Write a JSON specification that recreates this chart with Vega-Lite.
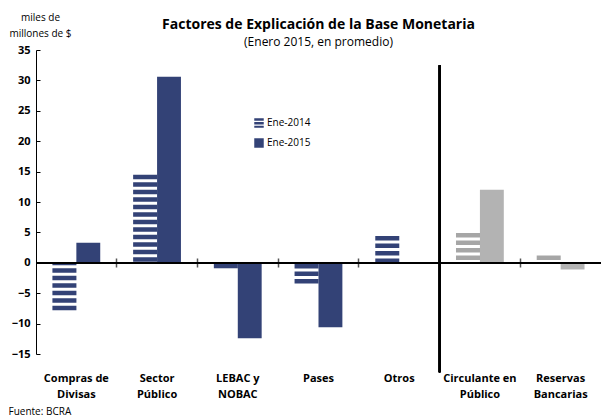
{
  "$schema": "https://vega.github.io/schema/vega-lite/v6.json",
  "autosize": {"type": "none"},
  "padding": {"left": 36, "top": 50, "right": 0, "bottom": 63},
  "width": 565,
  "height": 304,
  "background": "white",
  "config": {
    "font": "Open Sans",
    "view": {"stroke": null},
    "axis": {"labelOverlap": false},
    "axisY": {"labelOverlap": false, "labelFlush": false}
  },
  "title": {
    "text": "Factores de Explicación de la Base Monetaria",
    "subtitle": "(Enero 2015, en promedio)",
    "fontSize": 14,
    "fontWeight": "bold",
    "subtitleFontSize": 12,
    "subtitleColor": "black",
    "color": "black",
    "anchor": "middle",
    "offset": -36,
    "subtitlePadding": 5
  },
  "data": {
    "values": [
      {"categoria": "Compras de Divisas", "grupo": "Factores", "serie": "Ene-2014", "valor": -7.8},
      {"categoria": "Compras de Divisas", "grupo": "Factores", "serie": "Ene-2015", "valor": 3.3},
      {"categoria": "Sector Público", "grupo": "Factores", "serie": "Ene-2014", "valor": 14.5},
      {"categoria": "Sector Público", "grupo": "Factores", "serie": "Ene-2015", "valor": 30.6},
      {"categoria": "LEBAC y NOBAC", "grupo": "Factores", "serie": "Ene-2014", "valor": -0.9},
      {"categoria": "LEBAC y NOBAC", "grupo": "Factores", "serie": "Ene-2015", "valor": -12.4},
      {"categoria": "Pases", "grupo": "Factores", "serie": "Ene-2014", "valor": -3.4},
      {"categoria": "Pases", "grupo": "Factores", "serie": "Ene-2015", "valor": -10.6},
      {"categoria": "Otros", "grupo": "Factores", "serie": "Ene-2014", "valor": 4.4},
      {"categoria": "Otros", "grupo": "Factores", "serie": "Ene-2015", "valor": 0},
      {"categoria": "Circulante en Público", "grupo": "Base Monetaria", "serie": "Ene-2014", "valor": 4.9},
      {"categoria": "Circulante en Público", "grupo": "Base Monetaria", "serie": "Ene-2015", "valor": 12.0},
      {"categoria": "Reservas Bancarias", "grupo": "Base Monetaria", "serie": "Ene-2014", "valor": 1.2},
      {"categoria": "Reservas Bancarias", "grupo": "Base Monetaria", "serie": "Ene-2015", "valor": -1.1}
    ]
  },
  "resolve": {"axis": {"x": "independent"}},
  "layer": [
    {
      "transform": [{"filter": "datum.serie == 'Ene-2015'"}],
      "mark": {"type": "bar"},
      "encoding": {
        "x": {
          "field": "categoria", "type": "nominal", "sort": null,
          "scale": {"paddingInner": 0, "paddingOuter": 0},
          "axis": {
            "orient": "bottom", "domain": false, "ticks": false, "labelAngle": 0,
            "labelFontWeight": "bold", "labelFontSize": 11, "labelColor": "black",
            "labelPadding": 18, "labelBaseline": "top", "labelLineHeight": 16,
            "labelOverlap": false,
            "labelExpr": "lastindexof(datum.value, ' ') > 0 ? [substring(datum.value, 0, lastindexof(datum.value, ' ')), substring(datum.value, lastindexof(datum.value, ' ') + 1)] : datum.value",
            "title": "Fuente: BCRA", "titleFontWeight": "normal", "titleFontSize": 10,
            "titleColor": "black", "titleAnchor": "start", "titleAlign": "left",
            "titleBaseline": "alphabetic", "titleX": -28, "titleY": 60
          }
        },
        "xOffset": {
          "field": "serie", "type": "nominal",
          "scale": {"domain": ["Ene-2014", "Ene-2015"], "paddingInner": 0, "paddingOuter": 0.69}
        },
        "y": {
          "field": "valor", "type": "quantitative",
          "scale": {"domain": [-15, 35], "nice": false},
          "axis": {
            "tickCount": 10,
            "labelOverlap": false, "labelFlush": false,
            "grid": false, "domainColor": "black", "tickColor": "black",
            "tickSize": -4, "labelPadding": 10, "labelFontWeight": "bold",
            "labelFontSize": 11, "labelColor": "black",
            "title": ["miles de", "millones de $"], "titleAngle": 0,
            "titleFontWeight": "normal", "titleFontSize": 10, "titleColor": "black",
            "titleAlign": "center", "titleBaseline": "alphabetic",
            "titleX": 4, "titleY": -30, "titleLineHeight": 16
          }
        },
        "color": {
          "condition": {"test": "datum.grupo == 'Base Monetaria'", "value": "#b3b3b3"},
          "field": "serie", "type": "nominal",
          "scale": {"domain": ["Ene-2014", "Ene-2015"], "range": ["#334276", "#334276"]},
          "legend": {
            "orient": "none", "legendX": 218, "legendY": 68, "title": null,
            "symbolType": "square", "symbolSize": 90, "labelFontSize": 10,
            "labelColor": "black", "rowPadding": 10, "labelOffset": 3,
            "encode": {
              "symbols": {
                "update": {
                  "shape": {"signal": "datum.value === 'Ene-2014' ? 'M-1,-1H1V-0.5H-1Z M-1,-0.2H1V0.3H-1Z M-1,0.6H1V1H-1Z' : 'square'"},
                  "fill": {"value": "#334276"},
                  "strokeWidth": {"value": 0},
                  "opacity": {"value": 1}
                }
              }
            }
          }
        }
      }
    },
    {
      "transform": [{"filter": "datum.serie == 'Ene-2014'"}],
      "mark": {"type": "rule", "strokeWidth": 24, "strokeDash": [4.5, 3], "strokeCap": "butt"},
      "encoding": {
        "x": {
          "field": "categoria", "type": "nominal", "sort": null,
          "axis": {
            "orient": "top", "offset": -217, "labels": false, "domain": false,
            "ticks": true, "tickSize": 9, "tickColor": "#555", "tickWidth": 1.5,
            "bandPosition": 0, "title": null,
            "values": ["Sector Público", "LEBAC y NOBAC", "Pases", "Otros", "Reservas Bancarias"]
          }
        },
        "xOffset": {"field": "serie", "type": "nominal"},
        "y": {"field": "valor", "type": "quantitative"},
        "y2": {"datum": 0},
        "color": {
          "condition": {"test": "datum.grupo == 'Base Monetaria'", "value": "#a6a6a6"},
          "field": "serie", "type": "nominal",
          "legend": {
            "orient": "none", "legendX": 218, "legendY": 68, "title": null,
            "symbolType": "square", "symbolSize": 90, "labelFontSize": 10,
            "labelColor": "black", "rowPadding": 10, "labelOffset": 3,
            "encode": {
              "symbols": {
                "update": {
                  "shape": {"signal": "datum.value === 'Ene-2014' ? 'M-1,-1H1V-0.5H-1Z M-1,-0.2H1V0.3H-1Z M-1,0.6H1V1H-1Z' : 'square'"},
                  "fill": {"value": "#334276"},
                  "strokeWidth": {"value": 0},
                  "opacity": {"value": 1}
                }
              }
            }
          }
        }
      }
    },
    {
      "mark": {"type": "rule", "color": "black", "strokeWidth": 1.2},
      "encoding": {"y": {"datum": 0}}
    },
    {
      "mark": {"type": "rule", "color": "black", "strokeWidth": 1.5},
      "encoding": {
        "x": {"datum": "Circulante en Público", "type": "nominal", "bandPosition": 0, "axis": null},
        "y": {"datum": 32.5},
        "y2": {"datum": -18}
      }
    }
  ]
}
